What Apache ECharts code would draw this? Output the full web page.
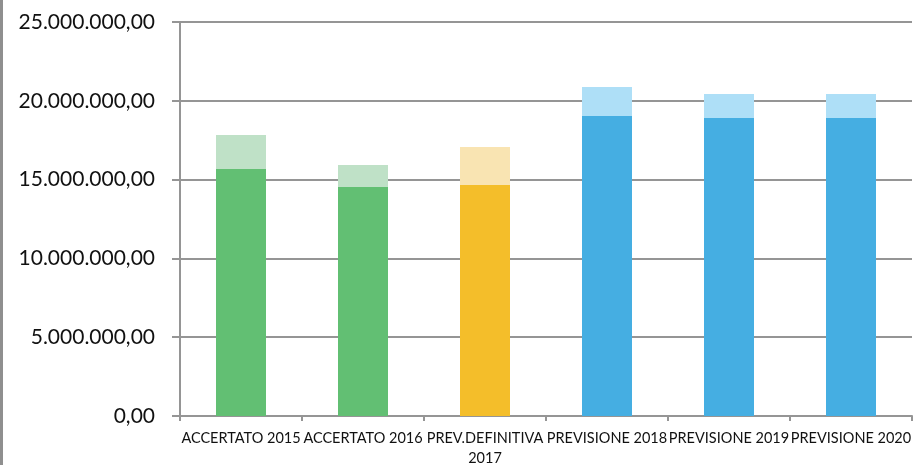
<!DOCTYPE html>
<html>
<head>
<meta charset="utf-8">
<script src="https://cdn.jsdelivr.net/npm/echarts@6/dist/echarts.min.js"></script>
<style>
  html, body { margin: 0; padding: 0; background: #fff; }
  #chart { width: 921px; height: 465px; }
</style>
</head>
<body>
<div id="chart"></div>
<script>
// Categories (years / budget phases)
const categories = ['ACCERTATO 2015', 'ACCERTATO 2016', 'PREV.DEFINITIVA\n2017', 'PREVISIONE 2018', 'PREVISIONE 2019', 'PREVISIONE 2020'];

// Full amount per category (lighter, back bar)
const totalValues = [17830000, 15930000, 17070000, 20880000, 20430000, 20430000];
// Main share per category (darker, front bar)
const mainValues = [15670000, 14530000, 14660000, 19040000, 18910000, 18910000];

// Colour pairs per category: [dark, light]
const darkColors  = ['#62BF73', '#62BF73', '#F4BE2A', '#45AEE2', '#45AEE2', '#45AEE2'];
const lightColors = ['#BFE1C7', '#BFE1C7', '#F9E4B2', '#AEDFF7', '#AEDFF7', '#AEDFF7'];

// Value axis range
const yMin = 0, yMax = 25000000, yStep = 5000000;

function formatIt(v) {
  const parts = Math.round(v).toString().replace(/\B(?=(\d{3})+(?!\d))/g, '.');
  return parts + ',00';
}

const chart = echarts.init(document.getElementById('chart'));
chart.setOption({
  animation: false,
  backgroundColor: '#ffffff',
  graphic: [{
    type: 'rect',
    left: 0, top: 0,
    shape: { x: 0, y: 0, width: 3, height: 465 },
    style: { fill: '#8f8f8f' }
  }],
  grid: { left: 180, right: 9, top: 22, bottom: 49, containLabel: false, outerBoundsMode: 'none' },
  xAxis: {
    type: 'category',
    data: categories,
    axisLine: { show: true, lineStyle: { color: '#959595', width: 2 } },
    axisTick: { show: true, length: 5, lineStyle: { color: '#959595', width: 2 } },
    axisLabel: {
      interval: 0,
      margin: 12,
      color: '#111',
      fontFamily: 'Lato',
      fontSize: 14.5,
      lineHeight: 20,
      hideOverlap: false
    }
  },
  yAxis: {
    type: 'value',
    min: yMin, max: yMax, interval: yStep,
    axisLine: { show: true, lineStyle: { color: '#959595', width: 2 } },
    axisTick: { show: true, length: 8, lineStyle: { color: '#959595', width: 2 } },
    splitLine: { show: true, lineStyle: { color: '#959595', width: 2 } },
    axisLabel: {
      margin: 25,
      color: '#111',
      fontFamily: 'Lato',
      fontSize: 21,
      formatter: formatIt
    }
  },
  series: [
    {
      name: 'Totale',
      type: 'bar',
      barWidth: 50,
      barGap: '-100%',
      z: 2,
      data: totalValues.map((v, i) => ({ value: v, itemStyle: { color: lightColors[i] } }))
    },
    {
      name: 'Quota',
      type: 'bar',
      barWidth: 50,
      z: 3,
      data: mainValues.map((v, i) => ({ value: v, itemStyle: { color: darkColors[i] } }))
    }
  ]
});
</script>
</body>
</html>
